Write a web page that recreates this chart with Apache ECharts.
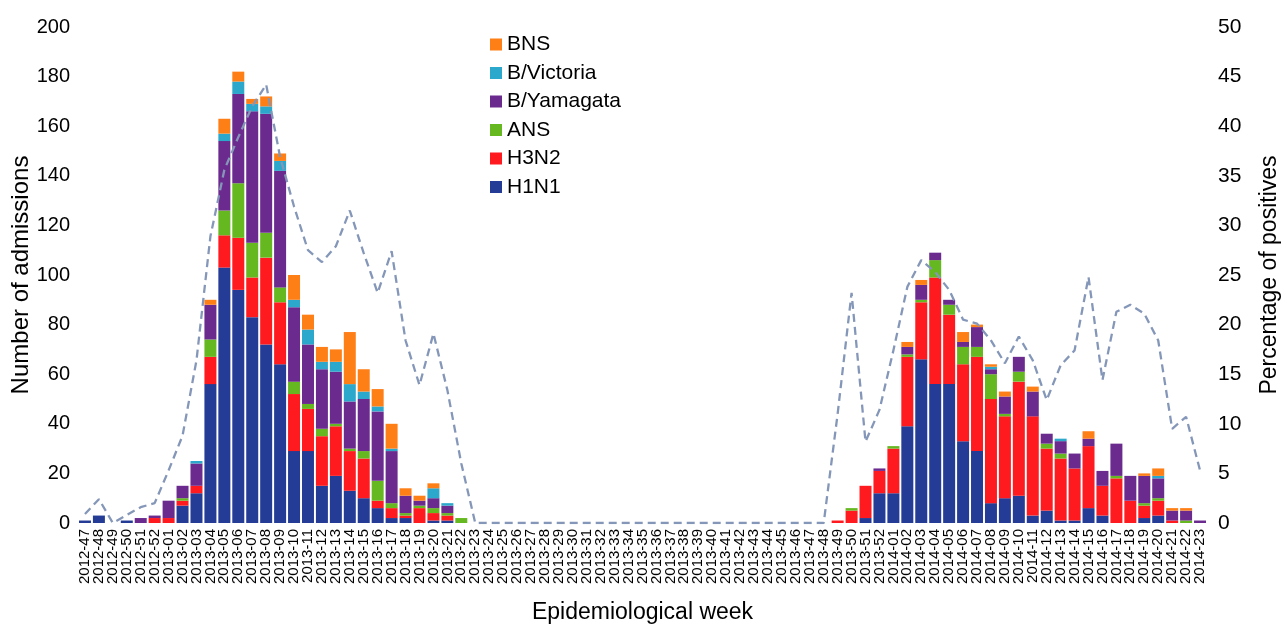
<!DOCTYPE html>
<html>
<head>
<meta charset="utf-8">
<script src="https://cdn.jsdelivr.net/npm/echarts@6/dist/echarts.min.js"></script>
<style>
html,body{margin:0;padding:0;background:#fff;}
#chart{width:1287px;height:627px;}
</style>
</head>
<body>
<div id="chart"></div>
<script>
const weeks = [
 "2012-47","2012-48","2012-49","2012-50","2012-51","2012-52",
 "2013-01","2013-02","2013-03","2013-04","2013-05","2013-06","2013-07","2013-08","2013-09","2013-10",
 "2013-11","2013-12","2013-13","2013-14","2013-15","2013-16","2013-17","2013-18","2013-19","2013-20",
 "2013-21","2013-22","2013-23","2013-24","2013-25","2013-26","2013-27","2013-28","2013-29","2013-30",
 "2013-31","2013-32","2013-33","2013-34","2013-35","2013-36","2013-37","2013-38","2013-39","2013-40",
 "2013-41","2013-42","2013-43","2013-44","2013-45","2013-46","2013-47","2013-48","2013-49","2013-50",
 "2013-51","2013-52",
 "2014-01","2014-02","2014-03","2014-04","2014-05","2014-06","2014-07","2014-08","2014-09","2014-10",
 "2014-11","2014-12","2014-13","2014-14","2014-15","2014-16","2014-17","2014-18","2014-19","2014-20",
 "2014-21","2014-22","2014-23"
];
const Z26 = [0,0,0,0,0,0,0,0,0,0,0,0,0,0,0,0,0,0,0,0,0,0,0,0,0,0];
const h1n1 = [1,3,0,1,0,0,0,7,12,56, 103,94,83,72,64,29,29,15,19,13, 10,6,2,2,0,1,1,0]
  .concat(Z26).concat([0,0,2,12,12,39, 66,56,56,33,29,8,10,11,3,5, 1,1,6,3,0,0,2,3,0,0,0]);
const h3n2 = [0,0,0,0,0,2,2,2,3,11, 13,21,16,35,25,23,17,20,20,16, 16,3,4,1,6,3,2,0]
  .concat(Z26).concat([1,5,13,9,18,28, 23,43,28,31,38,42,33,46,40,25, 25,21,25,12,18,9,5,6,1,0,0]);
const ans = [0,0,0,0,0,0,0,1,0,7, 10,22,14,10,6,5,2,3,1,1, 3,8,2,1,1,2,1,2]
  .concat(Z26).concat([0,1,0,0,1,1, 1,7,4,7,4,10,1,4,0,2, 2,0,0,0,1,0,1,1,0,1,0]);
const bYamagata = [0,0,0,0,2,1,7,5,9,14, 28,36,53,48,47,30,24,24,21,19, 21,28,21,7,2,4,3,0]
  .concat(Z26).concat([0,0,0,1,0,3, 6,3,2,2,8,2,7,6,10,4, 5,6,3,6,13,10,11,8,4,4,1]);
const bVictoria = [0,0,0,0,0,0,0,0,1,0, 3,5,3,3,4,3,6,3,4,7, 3,2,1,0,0,4,1,0]
  .concat(Z26).concat([0,0,0,0,0,0, 0,0,0,0,0,1,0,0,0,0, 1,0,0,0,0,0,0,1,0,0,0]);
const bns = [0,0,0,0,0,0,0,0,0,2, 6,4,2,4,3,10,6,6,5,21, 9,7,10,3,2,2,0,0]
  .concat(Z26).concat([0,0,0,0,0,2, 2,0,0,4,1,1,2,0,2,0, 0,0,3,0,0,0,1,3,1,1,0]);
const pctPositive = [0.9,2.4,0,0.8,1.6,2.0,5.3,8.8,16.4,28.9, 35.6,38.9,42.0,44.2,36.9,31.9,27.5,26.3,27.9,31.5, 27.2,23.2,27.4,18.4,13.9,19.1,13.4,6.0]
  .concat(Z26).concat([11.0,23.2,8.2,11.4,17.4,23.8, 26.5,25.3,23.5,20.5,20.1,18.4,16.1,18.8,16.4,12.4, 15.9,17.4,24.8,14.4,21.3,22.0,21.1,18.4,9.5,10.7,5.3]);
const leftTicks = {min:0, max:200, interval:20};
const rightTicks = {min:0, max:50, interval:5};

const FONT = "'Liberation Sans', Arial, sans-serif";
const colors = {H1N1:'#243c96', H3N2:'#ff1a1f', ANS:'#66b821', 'B/Yamagata':'#6a2a8e', 'B/Victoria':'#2ba8cc', BNS:'#ff7f17'};
const stacks = [['H1N1',h1n1],['H3N2',h3n2],['ANS',ans],['B/Yamagata',bYamagata],['B/Victoria',bVictoria],['BNS',bns]];

const series = stacks.map(([name, data]) => ({
  name, type:'bar', stack:'total', data, barCategoryGap:'14%',
  itemStyle:{color:colors[name]}, emphasis:{disabled:true}
}));
series.push({
  name:'Percentage of positives', type:'line', yAxisIndex:1, data:pctPositive,
  symbol:'none', smooth:false, z:5,
  lineStyle:{color:'#8597b8', width:2.3, type:[8,5]}
});

const chart = echarts.init(document.getElementById('chart'), null, {renderer:'canvas'});
chart.setOption({
  animation:false,
  backgroundColor:'#fff',
  textStyle:{fontFamily:FONT},
  grid:{left:78, right:80, top:27, bottom:104, containLabel:false, outerBoundsMode:'none'},
  legend:{
    orient:'vertical', left:485, top:29,
    data:['BNS','B/Victoria','B/Yamagata','ANS','H3N2','H1N1'],
    icon:'rect', itemWidth:12, itemHeight:12, itemGap:7.5,
    textStyle:{fontSize:21, color:'#000', fontFamily:FONT}
  },
  xAxis:{
    type:'category', data:weeks,
    axisLine:{show:false}, axisTick:{show:false},
    axisLabel:{interval:0, rotate:90, fontSize:15, color:'#000', margin:6, fontFamily:FONT},
    name:'Epidemiological week', nameLocation:'middle', nameGap:78, nameMoveOverlap:false,
    nameTextStyle:{fontSize:23, color:'#000', fontFamily:FONT}
  },
  yAxis:[{
    type:'value', min:leftTicks.min, max:leftTicks.max, interval:leftTicks.interval,
    axisLine:{show:false}, axisTick:{show:false}, splitLine:{show:false},
    axisLabel:{fontSize:20, color:'#000', margin:8, fontFamily:FONT},
    name:'Number of admissions', nameLocation:'middle', nameGap:45, nameMoveOverlap:false,
    nameTextStyle:{fontSize:24, color:'#000', fontFamily:FONT}
  },{
    type:'value', min:rightTicks.min, max:rightTicks.max, interval:rightTicks.interval,
    axisLine:{show:false}, axisTick:{show:false}, splitLine:{show:false},
    axisLabel:{fontSize:21, color:'#000', margin:11, fontFamily:FONT},
    name:'Percentage of positives', nameLocation:'middle', nameGap:51, nameMoveOverlap:false,
    nameTextStyle:{fontSize:23, color:'#000', fontFamily:FONT}
  }],
  series
});
</script>
</body>
</html>
